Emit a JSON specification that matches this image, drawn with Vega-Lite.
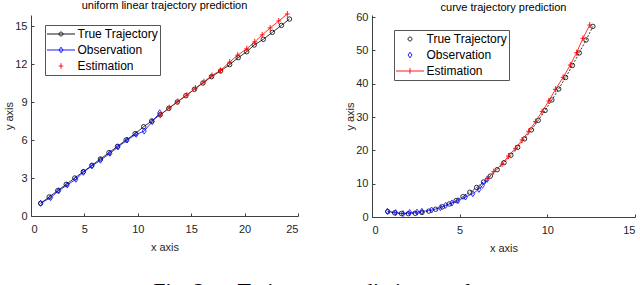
{
  "$schema": "https://vega.github.io/schema/vega-lite/v6.json",
  "padding": {"left": 3, "top": 0, "right": 0, "bottom": 0},
  "spacing": 45,
  "resolve": {"scale": {"color": "independent", "shape": "independent"}, "legend": {"color": "independent", "shape": "independent"}},
  "datasets": {
    "left": [
      {"s": "True Trajectory", "x": 0.9, "y": 1.0},
      {"s": "True Trajectory", "x": 1.7, "y": 1.5},
      {"s": "True Trajectory", "x": 2.5, "y": 2.0},
      {"s": "True Trajectory", "x": 3.3, "y": 2.5},
      {"s": "True Trajectory", "x": 4.1, "y": 3.0},
      {"s": "True Trajectory", "x": 4.9, "y": 3.5},
      {"s": "True Trajectory", "x": 5.7, "y": 4.0},
      {"s": "True Trajectory", "x": 6.5, "y": 4.5},
      {"s": "True Trajectory", "x": 7.3, "y": 5.0},
      {"s": "True Trajectory", "x": 8.1, "y": 5.5},
      {"s": "True Trajectory", "x": 8.9, "y": 6.0},
      {"s": "True Trajectory", "x": 9.75, "y": 6.5},
      {"s": "True Trajectory", "x": 10.55, "y": 7.05},
      {"s": "True Trajectory", "x": 11.3, "y": 7.5},
      {"s": "True Trajectory", "x": 12.1, "y": 8.0},
      {"s": "True Trajectory", "x": 12.9, "y": 8.5},
      {"s": "True Trajectory", "x": 13.7, "y": 9.0},
      {"s": "True Trajectory", "x": 14.5, "y": 9.5},
      {"s": "True Trajectory", "x": 15.3, "y": 10.0},
      {"s": "True Trajectory", "x": 16.1, "y": 10.5},
      {"s": "True Trajectory", "x": 16.9, "y": 11.0},
      {"s": "True Trajectory", "x": 17.75, "y": 11.45},
      {"s": "True Trajectory", "x": 18.6, "y": 11.95},
      {"s": "True Trajectory", "x": 19.4, "y": 12.5},
      {"s": "True Trajectory", "x": 20.2, "y": 12.97},
      {"s": "True Trajectory", "x": 20.9, "y": 13.5},
      {"s": "True Trajectory", "x": 21.75, "y": 13.95},
      {"s": "True Trajectory", "x": 22.6, "y": 14.5},
      {"s": "True Trajectory", "x": 23.45, "y": 15.05},
      {"s": "True Trajectory", "x": 24.2, "y": 15.55},
      {"s": "Observation", "x": 0.9, "y": 1.0},
      {"s": "Observation", "x": 1.84, "y": 1.45},
      {"s": "Observation", "x": 2.6, "y": 2.0},
      {"s": "Observation", "x": 3.4, "y": 2.45},
      {"s": "Observation", "x": 4.2, "y": 2.9},
      {"s": "Observation", "x": 4.9, "y": 3.45},
      {"s": "Observation", "x": 5.7, "y": 3.95},
      {"s": "Observation", "x": 6.5, "y": 4.4},
      {"s": "Observation", "x": 7.4, "y": 4.95},
      {"s": "Observation", "x": 8.15, "y": 5.45},
      {"s": "Observation", "x": 9.0, "y": 6.0},
      {"s": "Observation", "x": 9.85, "y": 6.45},
      {"s": "Observation", "x": 10.6, "y": 6.7},
      {"s": "Observation", "x": 11.35, "y": 7.45},
      {"s": "Observation", "x": 12.05, "y": 8.15},
      {"s": "Estimation", "x": 12.1, "y": 7.95},
      {"s": "Estimation", "x": 12.95, "y": 8.55},
      {"s": "Estimation", "x": 13.75, "y": 9.05},
      {"s": "Estimation", "x": 14.6, "y": 9.55},
      {"s": "Estimation", "x": 15.4, "y": 10.1},
      {"s": "Estimation", "x": 16.2, "y": 10.6},
      {"s": "Estimation", "x": 16.95, "y": 11.1},
      {"s": "Estimation", "x": 17.75, "y": 11.5},
      {"s": "Estimation", "x": 18.6, "y": 12.15},
      {"s": "Estimation", "x": 19.35, "y": 12.7},
      {"s": "Estimation", "x": 20.2, "y": 13.2},
      {"s": "Estimation", "x": 20.95, "y": 13.75},
      {"s": "Estimation", "x": 21.65, "y": 14.3},
      {"s": "Estimation", "x": 22.4, "y": 14.85},
      {"s": "Estimation", "x": 23.2, "y": 15.4},
      {"s": "Estimation", "x": 24.0, "y": 15.95}
    ],
    "right": [
      {"s": "True Trajectory", "x": 0.9, "y": 1.61},
      {"s": "True Trajectory", "x": 1.29, "y": 1.25},
      {"s": "True Trajectory", "x": 1.68, "y": 1.05},
      {"s": "True Trajectory", "x": 2.07, "y": 1.0},
      {"s": "True Trajectory", "x": 2.46, "y": 1.11},
      {"s": "True Trajectory", "x": 2.85, "y": 1.36},
      {"s": "True Trajectory", "x": 3.24, "y": 1.77},
      {"s": "True Trajectory", "x": 3.63, "y": 2.33},
      {"s": "True Trajectory", "x": 4.02, "y": 3.04},
      {"s": "True Trajectory", "x": 4.41, "y": 3.9},
      {"s": "True Trajectory", "x": 4.8, "y": 4.92},
      {"s": "True Trajectory", "x": 5.19, "y": 6.09},
      {"s": "True Trajectory", "x": 5.58, "y": 7.41},
      {"s": "True Trajectory", "x": 5.97, "y": 8.88},
      {"s": "True Trajectory", "x": 6.36, "y": 10.5},
      {"s": "True Trajectory", "x": 6.75, "y": 12.28},
      {"s": "True Trajectory", "x": 7.14, "y": 14.21},
      {"s": "True Trajectory", "x": 7.53, "y": 16.29},
      {"s": "True Trajectory", "x": 7.92, "y": 18.52},
      {"s": "True Trajectory", "x": 8.31, "y": 20.91},
      {"s": "True Trajectory", "x": 8.7, "y": 23.44},
      {"s": "True Trajectory", "x": 9.09, "y": 26.13},
      {"s": "True Trajectory", "x": 9.48, "y": 28.98},
      {"s": "True Trajectory", "x": 9.87, "y": 31.97},
      {"s": "True Trajectory", "x": 10.26, "y": 35.11},
      {"s": "True Trajectory", "x": 10.65, "y": 38.41},
      {"s": "True Trajectory", "x": 11.04, "y": 41.86},
      {"s": "True Trajectory", "x": 11.43, "y": 45.46},
      {"s": "True Trajectory", "x": 11.82, "y": 49.22},
      {"s": "True Trajectory", "x": 12.21, "y": 53.12},
      {"s": "True Trajectory", "x": 12.6, "y": 57.18},
      {"s": "Observation", "x": 0.88, "y": 1.7},
      {"s": "Observation", "x": 1.35, "y": 1.3},
      {"s": "Observation", "x": 1.77, "y": 1.0},
      {"s": "Observation", "x": 2.15, "y": 1.35},
      {"s": "Observation", "x": 2.57, "y": 1.45},
      {"s": "Observation", "x": 2.84, "y": 1.7},
      {"s": "Observation", "x": 3.4, "y": 2.1},
      {"s": "Observation", "x": 3.9, "y": 2.8},
      {"s": "Observation", "x": 4.2, "y": 3.5},
      {"s": "Observation", "x": 4.56, "y": 4.2},
      {"s": "Observation", "x": 4.9, "y": 4.9},
      {"s": "Observation", "x": 5.33, "y": 6.0},
      {"s": "Observation", "x": 5.75, "y": 7.0},
      {"s": "Observation", "x": 6.1, "y": 8.3},
      {"s": "Observation", "x": 6.3, "y": 9.5},
      {"s": "Observation", "x": 6.56, "y": 11.3},
      {"s": "Estimation", "x": 6.6, "y": 11.5},
      {"s": "Estimation", "x": 6.94, "y": 13.6},
      {"s": "Estimation", "x": 7.42, "y": 15.9},
      {"s": "Estimation", "x": 7.78, "y": 18.3},
      {"s": "Estimation", "x": 8.18, "y": 20.6},
      {"s": "Estimation", "x": 8.56, "y": 23.1},
      {"s": "Estimation", "x": 8.94, "y": 25.7},
      {"s": "Estimation", "x": 9.32, "y": 28.6},
      {"s": "Estimation", "x": 9.7, "y": 31.6},
      {"s": "Estimation", "x": 10.08, "y": 34.8},
      {"s": "Estimation", "x": 10.46, "y": 38.3},
      {"s": "Estimation", "x": 10.9, "y": 41.9},
      {"s": "Estimation", "x": 11.31, "y": 45.6},
      {"s": "Estimation", "x": 11.67, "y": 49.3},
      {"s": "Estimation", "x": 12.03, "y": 53.6},
      {"s": "Estimation", "x": 12.42, "y": 57.6}
    ]
  },
  "title": {
    "text": "Fig. 2.\u2003\u00a0Trajectory prediction results",
    "orient": "bottom",
    "anchor": "middle",
    "font": "Liberation Serif",
    "fontSize": 22,
    "fontWeight": "normal",
    "color": "#000000",
    "baseline": "top",
    "offset": 28
  },
  "hconcat": [
    {
      "width": 267,
      "height": 201,
      "title": {"text": "uniform linear trajectory prediction", "offset": -2},
      "data": {"name": "left"},
      "encoding": {
        "x": {"field": "x", "type": "quantitative", "scale": {"domain": [0, 25], "nice": false, "zero": false},
              "axis": {"values": [0, 5, 10, 15, 20, 25], "title": "x axis"}},
        "y": {"field": "y", "type": "quantitative", "scale": {"domain": [0, 15.87], "nice": false, "zero": false},
              "axis": {"values": [0, 3, 6, 9, 12, 15], "title": "y axis"}}
      },
      "layer": [
        {"transform": [{"filter": "datum.s === 'True Trajectory'"}],
         "mark": {"type": "line", "color": "#000000", "strokeWidth": 0.8}},
        {"transform": [{"filter": "datum.s === 'True Trajectory'"}],
         "mark": {"type": "point", "shape": "circle", "size": 20, "filled": false, "color": "#000000", "strokeWidth": 0.8, "opacity": 1}},
        {"transform": [{"filter": "datum.s === 'Observation'"}],
         "mark": {"type": "line", "color": "#0000ff", "strokeWidth": 0.8}},
        {"transform": [{"filter": "datum.s === 'Observation'"}],
         "mark": {"type": "point", "shape": "M0,-1.2L0.8,0L0,1.2L-0.8,0Z", "size": 25, "filled": false, "color": "#0000ff", "strokeWidth": 0.8, "opacity": 1}},
        {"transform": [{"filter": "datum.s === 'Estimation'"}],
         "mark": {"type": "line", "color": "#ff0000", "strokeWidth": 0.8}},
        {"transform": [{"filter": "datum.s === 'Estimation'"}],
         "mark": {"type": "point", "shape": "M0,-1V1M-0.8,0H0.8", "size": 36, "filled": false, "color": "#ff0000", "strokeWidth": 0.9, "opacity": 1}},
        {"mark": {"type": "point", "filled": false, "opacity": 0},
         "encoding": {
           "color": {"field": "s", "type": "nominal",
             "scale": {"domain": ["True Trajectory", "Observation", "Estimation"], "range": ["#000000", "#0000ff", "#ff0000"]},
             "legend": {"orient": "none", "legendX": 14, "legendY": 10, "title": null, "padding": 1.5, "rowPadding": 1, "clipHeight": 15, "symbolSize": 784, "symbolStrokeWidth": 0.9, "symbolOffset": 0, "labelOffset": 2, "labelFontSize": 12, "labelFont": "Liberation Sans", "labelColor": "#000000", "strokeColor": "#555555", "fillColor": "#ffffff", "symbolFillColor": "transparent"}},
           "shape": {"field": "s", "type": "nominal",
             "scale": {"domain": ["True Trajectory", "Observation", "Estimation"],
                       "range": ["M-1,0H1M0.14,0A0.14,0.14,0,1,1,-0.14,0A0.14,0.14,0,1,1,0.14,0", "M-1,0H1M0,-0.2L0.14,0L0,0.2L-0.14,0Z", "M0,-0.2V0.2M-0.16,0H0.16"]},
             "legend": {"orient": "none", "legendX": 14, "legendY": 10, "title": null, "padding": 1.5, "rowPadding": 1, "clipHeight": 15, "symbolSize": 784, "symbolStrokeWidth": 0.9, "symbolOffset": 0, "labelOffset": 2, "labelFontSize": 12, "labelFont": "Liberation Sans", "labelColor": "#000000", "strokeColor": "#555555", "fillColor": "#ffffff", "symbolFillColor": "transparent"}}
         }}
      ]
    },
    {
      "width": 263,
      "height": 202,
      "title": {"text": "curve trajectory prediction", "offset": -1.6},
      "data": {"name": "right"},
      "encoding": {
        "x": {"field": "x", "type": "quantitative", "scale": {"domain": [0, 15], "nice": false, "zero": false},
              "axis": {"values": [0, 5, 10, 15], "title": "x axis"}},
        "y": {"field": "y", "type": "quantitative", "scale": {"domain": [0, 60.6], "nice": false, "zero": false},
              "axis": {"values": [0, 10, 20, 30, 40, 50, 60], "title": "y axis"}}
      },
      "layer": [
        {"transform": [{"filter": "datum.s === 'True Trajectory'"}],
         "mark": {"type": "line", "color": "#000000", "strokeWidth": 0.8, "strokeDash": [2, 1.5]}},
        {"transform": [{"filter": "datum.s === 'True Trajectory'"}],
         "mark": {"type": "point", "shape": "circle", "size": 20, "filled": false, "color": "#000000", "strokeWidth": 0.8, "opacity": 1}},
        {"transform": [{"filter": "datum.s === 'Observation'"}],
         "mark": {"type": "line", "color": "#0000ff", "strokeWidth": 0.7}},
        {"transform": [{"filter": "datum.s === 'Observation'"}],
         "mark": {"type": "point", "shape": "M0,-1.2L0.8,0L0,1.2L-0.8,0Z", "size": 25, "filled": false, "color": "#0000ff", "strokeWidth": 0.8, "opacity": 1}},
        {"transform": [{"filter": "datum.s === 'Estimation'"}],
         "mark": {"type": "line", "color": "#ff0000", "strokeWidth": 0.8}},
        {"transform": [{"filter": "datum.s === 'Estimation'"}],
         "mark": {"type": "point", "shape": "M0,-1V1M-0.8,0H0.8", "size": 36, "filled": false, "color": "#ff0000", "strokeWidth": 0.9, "opacity": 1}},
        {"mark": {"type": "point", "filled": false, "opacity": 0},
         "encoding": {
           "color": {"field": "s", "type": "nominal",
             "scale": {"domain": ["True Trajectory", "Observation", "Estimation"], "range": ["#000000", "#0000ff", "#ff0000"]},
             "legend": {"orient": "none", "legendX": 22, "legendY": 15, "title": null, "padding": 1.5, "rowPadding": 1, "clipHeight": 15, "symbolSize": 784, "symbolStrokeWidth": 0.9, "symbolOffset": 0, "labelOffset": 2, "labelFontSize": 12, "labelFont": "Liberation Sans", "labelColor": "#000000", "strokeColor": "#555555", "fillColor": "#ffffff", "symbolFillColor": "transparent"}},
           "shape": {"field": "s", "type": "nominal",
             "scale": {"domain": ["True Trajectory", "Observation", "Estimation"],
                       "range": ["M0.14,0A0.14,0.14,0,1,1,-0.14,0A0.14,0.14,0,1,1,0.14,0", "M0,-0.2L0.14,0L0,0.2L-0.14,0Z", "M-1,0H1M0,-0.2V0.2"]},
             "legend": {"orient": "none", "legendX": 22, "legendY": 15, "title": null, "padding": 1.5, "rowPadding": 1, "clipHeight": 15, "symbolSize": 784, "symbolStrokeWidth": 0.9, "symbolOffset": 0, "labelOffset": 2, "labelFontSize": 12, "labelFont": "Liberation Sans", "labelColor": "#000000", "strokeColor": "#555555", "fillColor": "#ffffff", "symbolFillColor": "transparent"}}
         }}
      ]
    }
  ],
  "config": {
    "view": {"stroke": null},
    "font": "Liberation Sans",
    "axis": {
      "grid": false,
      "domainColor": "#404040",
      "tickColor": "#404040",
      "domainWidth": 1,
      "tickWidth": 1,
      "tickSize": -3,
      "labelColor": "#262626",
      "titleColor": "#262626",
      "labelFont": "Liberation Sans",
      "titleFont": "Liberation Sans",
      "labelFontSize": 11,
      "titleFontSize": 11,
      "titleFontWeight": "normal"
    },
    "axisX": {"labelPadding": 10, "titlePadding": 7},
    "axisY": {"labelPadding": 7, "titlePadding": 0},
    "title": {"font": "Liberation Sans", "fontSize": 11, "fontWeight": "normal", "color": "#000000"}
  }
}
